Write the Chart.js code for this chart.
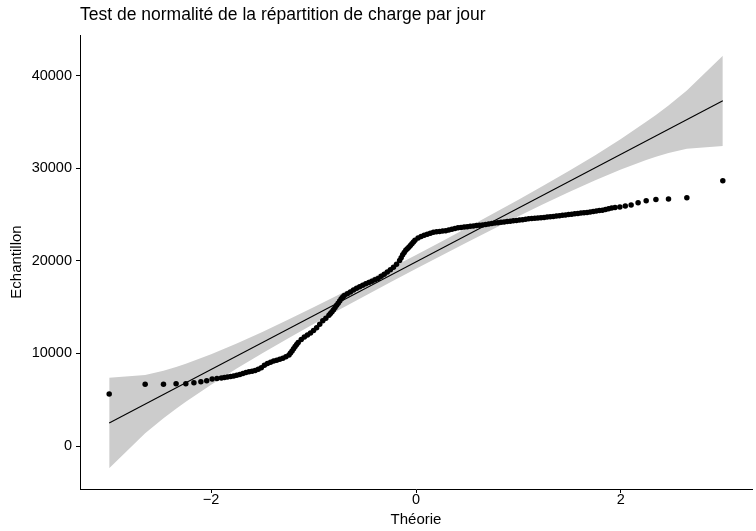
<!DOCTYPE html>
<html>
<head>
<meta charset="utf-8">
<script src="https://cdn.jsdelivr.net/npm/chart.js@4"></script>
<style>
  html, body { margin: 0; padding: 0; background: #fff; }
  #qq { display: block; }
</style>
</head>
<body>
<canvas id="qq" width="756" height="531"></canvas>
<script>
// theoretical quantiles and observed daily load (one point per day)
var theo = [
  -2.995, -2.644, -2.465, -2.342, -2.247, -2.168, -2.100, -2.043, -1.990, -1.943,
  -1.90, -1.87, -1.84, -1.81, -1.78, -1.75, -1.72, -1.69, -1.66, -1.63,
  -1.60, -1.57, -1.54, -1.51, -1.48, -1.45, -1.42, -1.39, -1.36, -1.33,
  -1.30, -1.27, -1.24, -1.225, -1.21, -1.195, -1.18, -1.165, -1.15, -1.12,
  -1.09, -1.06, -1.03, -1.00, -0.97, -0.94, -0.91, -0.88, -0.85, -0.835,
  -0.82, -0.805, -0.79, -0.775, -0.76, -0.745, -0.73, -0.715, -0.70, -0.67,
  -0.64, -0.61, -0.58, -0.55, -0.52, -0.49, -0.46, -0.43, -0.40, -0.37,
  -0.34, -0.31, -0.28, -0.25, -0.22, -0.19, -0.16, -0.145, -0.13, -0.115,
  -0.10, -0.085, -0.07, -0.055, -0.04, -0.025, -0.01, 0.02, 0.05, 0.08,
  0.11, 0.14, 0.17, 0.20, 0.23, 0.26, 0.29, 0.32, 0.35, 0.38,
  0.41, 0.44, 0.47, 0.50, 0.53, 0.56, 0.59, 0.62, 0.65, 0.68,
  0.71, 0.74, 0.77, 0.80, 0.83, 0.86, 0.89, 0.92, 0.95, 0.98,
  1.01, 1.04, 1.07, 1.10, 1.13, 1.16, 1.19, 1.22, 1.25, 1.28,
  1.31, 1.34, 1.37, 1.40, 1.43, 1.46, 1.49, 1.52, 1.55, 1.58,
  1.61, 1.64, 1.67, 1.70, 1.73, 1.76, 1.79, 1.82, 1.85, 1.88,
  1.91, 1.943, 1.990, 2.043, 2.100, 2.168, 2.247, 2.342, 2.465, 2.644,
  2.995
];
var sample = [
  5620, 6670, 6670, 6740, 6740, 6840, 6950, 7060, 7240, 7300,
  7355, 7400, 7450, 7510, 7580, 7650, 7730, 7830, 7940, 8020,
  8070, 8150, 8310, 8470, 8740, 8930, 9060, 9180, 9280, 9370,
  9490, 9640, 9850, 10060, 10280, 10510, 10750, 10970, 11190, 11520,
  11790, 12000, 12210, 12480, 12780, 13150, 13530, 13810, 14120, 14320,
  14520, 14740, 14960, 15200, 15440, 15680, 15920, 16100, 16270, 16460,
  16650, 16850, 17040, 17210, 17380, 17530, 17670, 17810, 17960, 18110,
  18340, 18560, 18800, 19040, 19320, 19640, 20040, 20350, 20680, 20920,
  21150, 21320, 21490, 21680, 21870, 22060, 22250, 22470, 22650, 22790,
  22890, 23000, 23100, 23150, 23190, 23230, 23260, 23350, 23440, 23520,
  23580, 23620, 23660, 23700, 23740, 23780, 23820, 23860, 23890, 23940,
  23990, 24040, 24090, 24140, 24180, 24220, 24260, 24300, 24340, 24380,
  24420, 24460, 24500, 24550, 24590, 24620, 24650, 24680, 24710, 24740,
  24770, 24810, 24850, 24890, 24930, 24970, 25010, 25050, 25090, 25130,
  25170, 25200, 25240, 25290, 25340, 25390, 25440, 25490, 25560, 25640,
  25720, 25780, 25840, 25950, 26050, 26300, 26520, 26650, 26700, 26840,
  28680
];

// reference line
var fitTheo = [-2.995, 2.995];
var fitSample = [2490, 37320];

// 95% confidence band around the reference line
var bandTheo = [-2.995, -2.644, -2.465, -2.342, -2.247, -2.0, -1.75, -1.5, -1.25, -1.0,
  -0.75, -0.5, -0.25, 0, 0.25, 0.5, 0.75, 1.0, 1.25, 1.5,
  1.75, 2.0, 2.247, 2.342, 2.465, 2.644, 2.995];
var bandUpper = [7389, 7684, 8144, 8549, 8900, 9922, 11084, 12333, 13640, 14991,
  16373, 17780, 19208, 20653, 22116, 23595, 25095, 26621, 28178, 29778,
  31436, 33182, 35032, 35787, 36812, 38434, 42190];
var bandLower = [-2415, 1376, 2998, 4023, 4778, 6628, 8374, 10033, 11632, 13189,
  14715, 16216, 17694, 19157, 20602, 22031, 23437, 24819, 26170, 27478,
  28726, 29888, 30910, 31261, 31666, 32126, 32430];

var xTicks = [-2, 0, 2];
var yTicks = [0, 10000, 20000, 30000, 40000];

var FONT = '"Liberation Sans", Arial, Helvetica, sans-serif';

function pairs(xs, ys) {
  return xs.map(function (x, i) { return { x: x, y: ys[i] }; });
}

var titlePlugin = {
  id: 'plotTitle',
  afterDraw: function (chart) {
    var ctx = chart.ctx;
    ctx.save();
    ctx.font = '17.5px ' + FONT;
    ctx.fillStyle = '#000';
    ctx.textBaseline = 'alphabetic';
    ctx.textAlign = 'left';
    ctx.fillText('Test de normalité de la répartition de charge par jour', chart.chartArea.left, 20);
    ctx.restore();
  }
};

var axisGrid = {
  display: true,
  drawOnChartArea: false,
  drawTicks: true,
  tickLength: 4,
  tickColor: '#000',
  color: '#000'
};

new Chart(document.getElementById('qq').getContext('2d'), {
  type: 'line',
  data: {
    datasets: [
      {
        data: pairs(theo, sample),
        showLine: false,
        pointRadius: 2.75,
        pointBackgroundColor: '#000',
        pointBorderWidth: 0,
        order: 0
      },
      {
        data: pairs(fitTheo, fitSample),
        borderColor: '#000',
        borderWidth: 1.1,
        pointRadius: 0,
        fill: false,
        order: 1
      },
      {
        data: pairs(bandTheo, bandUpper),
        borderWidth: 0,
        borderColor: 'rgba(0,0,0,0)',
        backgroundColor: 'rgb(204,204,204)',
        pointRadius: 0,
        fill: '+1',
        order: 2
      },
      {
        data: pairs(bandTheo, bandLower),
        borderWidth: 0,
        borderColor: 'rgba(0,0,0,0)',
        pointRadius: 0,
        fill: false,
        order: 3
      }
    ]
  },
  options: {
    responsive: false,
    animation: false,
    layout: { padding: { left: 0, right: 4, top: 35, bottom: 0 } },
    plugins: {
      legend: { display: false },
      tooltip: { enabled: false },
      title: { display: false }
    },
    scales: {
      x: {
        type: 'linear',
        min: -3.28,
        max: 3.28,
        grid: axisGrid,
        border: { display: true, color: '#000', width: 1 },
        afterBuildTicks: function (scale) {
          scale.ticks = xTicks.map(function (v) { return { value: v }; });
        },
        afterFit: function (scale) { scale.height = 42; },
        ticks: {
          color: '#000',
          padding: -2,
          maxRotation: 0,
          font: { family: FONT, size: 14.5 },
          callback: function (v) { return String(v).replace('-', '\u2212'); }
        },
        title: {
          display: true,
          text: 'Théorie',
          color: '#000',
          padding: { top: 0, bottom: 2 },
          font: { family: FONT, size: 15 }
        }
      },
      y: {
        type: 'linear',
        min: -4645,
        max: 44420,
        grid: axisGrid,
        border: { display: true, color: '#000', width: 1 },
        afterBuildTicks: function (scale) {
          scale.ticks = yTicks.map(function (v) { return { value: v }; });
        },
        afterFit: function (scale) { scale.width = 80; },
        ticks: {
          color: '#000',
          padding: 4,
          font: { family: FONT, size: 14.5 },
          callback: function (v) { return String(v); }
        },
        title: {
          display: true,
          text: 'Echantillon',
          color: '#000',
          padding: { top: 8, bottom: 0 },
          font: { family: FONT, size: 15 }
        }
      }
    }
  },
  plugins: [titlePlugin]
});
</script>
</body>
</html>
